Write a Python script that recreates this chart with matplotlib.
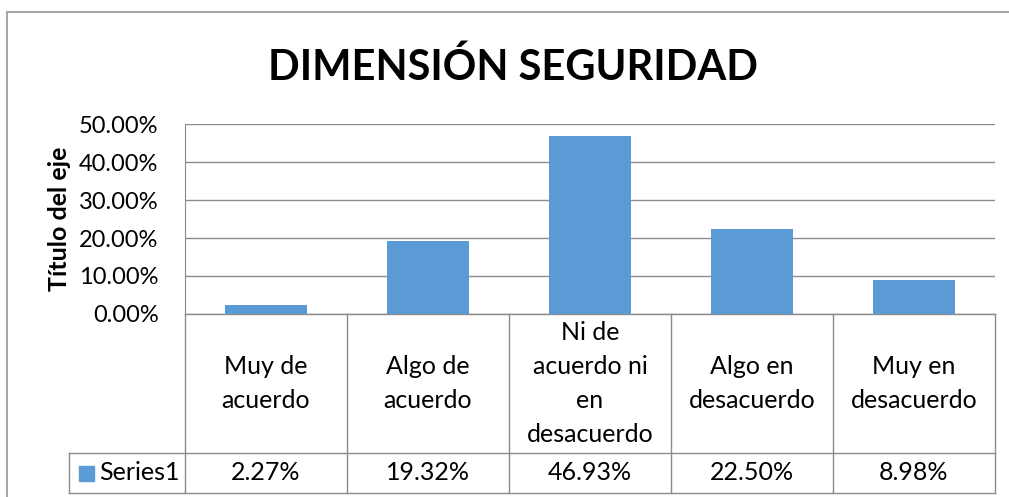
import numpy as np
import matplotlib
matplotlib.use('Agg')
import matplotlib.pyplot as plt
from matplotlib.transforms import blended_transform_factory

plt.rcParams['font.family'] = ['Lato', 'DejaVu Sans']

categories = ['Muy de\nacuerdo', 'Algo de\nacuerdo', 'Ni de\nacuerdo ni\nen\ndesacuerdo',
              'Algo en\ndesacuerdo', 'Muy en\ndesacuerdo']
values = [0.0227, 0.1932, 0.4693, 0.2250, 0.0898]
value_labels = ['2.27%', '19.32%', '46.93%', '22.50%', '8.98%']
series_name = 'Series1'
yticks = [0.0, 0.1, 0.2, 0.3, 0.4, 0.5]

W, H = 1009, 497
bar_color = '#5B9BD5'
line_color = '#8C8C8C'
fs = 18

fig = plt.figure(figsize=(W / 100, H / 100), dpi=100)

# outer chart border (clipped by image edges on right/bottom)
fig.add_artist(plt.Line2D([7 / W, 7 / W], [0, 1 - 12 / H], transform=fig.transFigure,
                          color='#A6A6A6', lw=1.5))
fig.add_artist(plt.Line2D([7 / W, 1], [1 - 12 / H, 1 - 12 / H], transform=fig.transFigure,
                          color='#A6A6A6', lw=1.5))

left, right, top, bottom = 185, 995, 124, 314
ax = fig.add_axes([left / W, 1 - bottom / H, (right - left) / W, (bottom - top) / H])

x = np.arange(len(values))
ax.bar(x, values, width=0.51, color=bar_color, zorder=3)
ax.set_xlim(-0.5, len(values) - 0.5)
ax.set_ylim(0, 0.5)
ax.set_yticks(yticks)
ax.set_yticklabels([f'{t * 100:.2f}%' for t in yticks], fontsize=17)
ax.tick_params(axis='y', length=0, pad=19)
ax.set_xticks([])
ax.grid(axis='y', color=line_color, lw=1, zorder=0)
for s in ['top', 'right', 'bottom']:
    ax.spines[s].set_visible(False)
ax.spines['left'].set_color(line_color)
ax.set_ylabel('Título del eje', fontsize=fs, fontweight='bold', labelpad=6)

fig.suptitle('DIMENSIÓN SEGURIDAD', fontsize=30, fontweight='bold', x=513 / W,
             y=1 - 67 / H, va='center')

# data table under the axis
ph = bottom - top
row1 = -(453 - bottom) / ph
row2 = -(493 - bottom) / ph
leg_left = (69 - left) / (right - left)
tr = ax.transAxes
kw = dict(transform=tr, color=line_color, lw=1, clip_on=False)
ax.plot([0, 1], [0, 0], **kw)
ax.plot([leg_left, 1], [row1, row1], **kw)
ax.plot([leg_left, 1], [row2, row2], **kw)
ax.plot([0, 0], [0, row2], **kw)
ax.plot([leg_left, leg_left], [row1, row2], **kw)
ax.plot([1, 1], [0, row2], **kw)
bt = blended_transform_factory(ax.transData, tr)
for i in range(1, len(values)):
    ax.plot([i - 0.5, i - 0.5], [0, row2], transform=bt, color=line_color, lw=1, clip_on=False)
for i, (c, v) in enumerate(zip(categories, value_labels)):
    ax.text(i, row1 / 2, c, transform=bt, ha='center', va='center', fontsize=fs,
            linespacing=1.58)
    ax.text(i, (row1 + row2) / 2, v, transform=bt, ha='center', va='center', fontsize=fs)

# legend key in table
sq = (94 - 79) / (right - left)
ax.add_patch(plt.Rectangle(((79 - left) / (right - left), (row1 + row2) / 2 - 7.5 / ph),
                           sq, 15 / ph, transform=tr, color=bar_color, clip_on=False))
ax.text((99 - left) / (right - left), (row1 + row2) / 2, series_name, transform=tr,
        ha='left', va='center', fontsize=fs)

fig.savefig('out.png', dpi=100)
